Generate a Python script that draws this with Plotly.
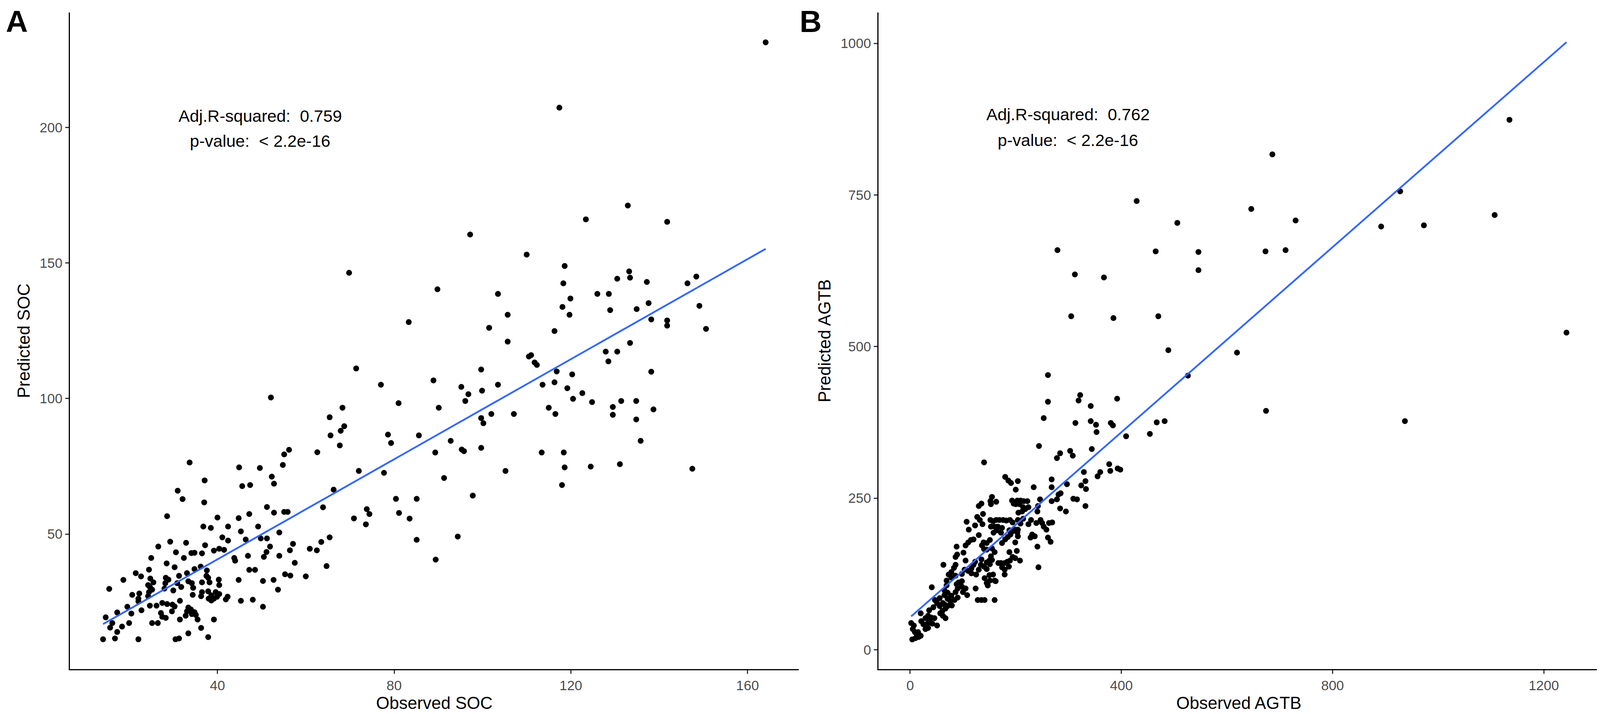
import plotly.graph_objects as go

# panel A: soil organic carbon, observed vs predicted
soc_obs = [
    164.1, 117.4, 132.9, 123.4, 141.8, 97.2, 110.0, 118.6, 69.8, 148.4, 133.2, 133.4, 130.5, 137.2, 146.4,
    118.3, 89.8, 103.5, 126.0, 128.6, 119.9, 137.6, 118.1, 149.1, 128.9, 134.9, 105.7, 119.7, 83.3, 138.2,
    141.8, 141.8, 150.6, 101.5, 116.3, 105.7, 133.4, 127.9, 130.5, 110.5, 111.0, 111.8, 112.3, 128.5, 71.4,
    99.7, 116.8, 138.2, 120.3, 77.0, 88.9, 95.2, 96.8, 99.9, 103.5, 113.6, 116.3, 119.2, 122.6, 120.5,
    124.8, 131.4, 134.8, 96.1, 52.1, 81.0, 129.5, 129.5, 138.7, 115.0, 116.5, 68.3, 90.1, 102.0, 107.1,
    99.7, 100.2, 134.8, 65.4, 68.7, 67.9, 65.6, 78.6, 79.3, 85.6, 92.8, 67.7, 135.8,
    62.6, 56.2, 55.1, 54.8, 49.6, 44.9, 33.7, 77.7, 72.0, 66.3, 63.9, 70.9, 73.6, 73.8, 74.4,
    52.3, 52.8, 45.6, 47.4, 37.1, 31.0, 32.1, 37.0, 28.6, 51.2, 52.8, 55.1, 55.9, 47.2, 44.8,
    40.0, 45.3, 49.2, 42.4, 36.8, 38.5, 54.0, 65.4, 63.5, 41.1, 42.4, 46.4, 49.8, 51.2, 51.9,
    57.1, 60.9, 62.5, 56.4, 51.1, 50.5, 54.0, 46.9, 43.8, 44.0, 57.5, 64.7, 47.2, 48.5, 55.3,
    56.5, 60.0, 44.8, 50.3, 52.7, 53.7, 45.3, 48.0, 50.3, 39.2, 40.4, 41.5, 32.9, 29.3, 26.6,
    37.2, 30.6, 34.1, 34.8, 36.5, 32.4, 25.0, 28.5, 30.3, 24.5, 34.8, 36.2, 37.6, 21.5, 22.7,
    18.7, 24.8, 25.5, 28.3, 28.9, 31.3, 33.1, 37.5, 37.9, 24.3, 24.7, 28.2, 30.9, 33.4, 34.2,
    36.5, 38.2, 40.3, 40.4, 15.5, 25.2, 30.0, 31.8, 34.5, 24.5, 28.0, 36.5, 37.9, 39.6, 40.4,
    20.7, 22.3, 24.3, 34.4, 36.3, 38.6, 39.2, 39.9, 42.3, 41.9, 22.1, 22.1, 38.0, 38.6, 31.5,
    19.6, 24.7, 26.2, 27.5, 28.6, 29.8, 30.3, 17.3, 20.5, 22.8, 27.2, 29.7, 33.4, 34.0, 34.8,
    33.1, 34.2, 32.8, 35.1, 14.7, 27.5, 28.3, 31.5, 35.5, 39.2, 16.2, 20.0, 25.2, 26.5, 15.7,
    18.4, 36.3, 17.3, 33.4, 14.1, 16.8, 22.1, 30.5, 31.3, 37.9,
    89.3, 95.3, 95.8, 99.7, 113.4, 118.4, 105.2, 118.6, 124.5, 131.1, 147.5, 91.3, 118.0, 80.4, 85.1,
    97.8, 81.1, 83.5, 94.4, 85.1, 89.4,
]
soc_pred = [
    231.4, 207.3, 171.2, 166.1, 165.2, 160.5, 153.1, 148.9, 146.4, 145.0, 146.9, 144.6, 144.2, 143.0, 142.5,
    142.5, 140.3, 138.6, 138.6, 138.6, 136.9, 135.2, 133.8, 134.2, 132.6, 133.0, 130.9, 130.9, 128.2, 129.2,
    128.8, 126.9, 125.7, 126.1, 124.9, 121.0, 120.5, 117.3, 117.3, 115.5, 116.0, 113.3, 112.4, 113.7, 111.1,
    110.7, 110.0, 109.9, 108.9, 105.1, 106.7, 104.3, 101.6, 102.9, 105.1, 105.1, 106.0, 103.8, 102.0, 99.9,
    98.7, 99.1, 99.1, 99.1, 100.4, 98.3, 96.9, 94.0, 96.0, 96.6, 94.3, 96.6, 96.6, 94.3, 94.3,
    92.8, 90.9, 92.3, 93.1, 89.8, 88.1, 86.4, 86.7, 83.6, 86.4, 84.4, 82.7, 84.4,
    80.2, 81.1, 79.4, 75.5, 74.4, 74.6, 76.4, 72.6, 73.3, 66.4, 59.9, 55.8, 53.6, 59.2, 57.4,
    71.2, 68.6, 67.7, 68.1, 69.8, 66.0, 62.9, 61.7, 56.6, 60.0, 57.9, 58.2, 58.2, 57.4, 55.9,
    56.1, 51.0, 52.8, 52.8, 52.8, 52.3, 50.6, 48.8, 47.1, 48.8, 47.6, 48.0, 48.4, 48.4, 45.4,
    46.4, 44.6, 44.0, 44.0, 43.4, 41.6, 42.0, 42.0, 41.2, 40.2, 39.4, 38.2, 36.8, 36.8, 35.2,
    34.7, 34.4, 33.1, 32.7, 33.1, 29.5, 25.4, 25.8, 23.2, 43.9, 44.6, 44.2, 46.8, 47.2, 45.4,
    45.9, 43.3, 43.0, 43.1, 42.9, 41.2, 41.2, 39.2, 37.8, 36.9, 37.1, 38.0, 36.6, 35.6, 34.4,
    33.1, 33.6, 32.2, 33.9, 33.2, 34.6, 35.6, 34.6, 33.9, 31.2, 30.5, 31.9, 31.9, 32.6, 31.9,
    32.2, 32.2, 33.2, 31.2, 29.8, 29.5, 29.2, 30.5, 30.2, 28.6, 29.9, 28.6, 28.9, 28.6, 27.9,
    27.6, 28.1, 27.1, 27.6, 27.1, 27.4, 26.2, 26.9, 26.9, 25.9, 26.2, 25.2, 26.2, 25.5, 25.4,
    23.2, 23.6, 23.6, 24.6, 24.2, 24.0, 23.3, 21.1, 20.7, 21.9, 20.9, 21.5, 22.9, 22.2, 21.2,
    21.5, 20.5, 19.9, 20.2, 19.3, 19.5, 19.1, 18.5, 18.5, 18.5, 17.2, 17.2, 17.2, 17.2, 15.5,
    15.9, 15.4, 13.9, 13.4, 11.2, 11.5, 11.2, 11.2, 11.5, 12.0,
    80.1, 81.2, 80.6, 81.8, 80.1, 80.1, 73.3, 74.6, 74.9, 75.8, 74.1, 70.7, 68.1, 63.0, 63.0,
    64.2, 57.8, 55.7, 49.1, 47.9, 40.6,
]
soc_fit_obs = [14.1, 164.1]
soc_fit_pred = [16.8, 155.2]

# panel B: above-ground tree biomass, observed vs predicted
agtb_obs = [
    1135, 686, 429, 646, 928, 1107, 730, 506, 892, 973, 279, 465, 546, 673, 711,
    546, 312, 367, 305, 385, 470, 1243, 489, 619, 526, 261, 261, 322, 319, 392,
    674, 937, 253, 313, 342, 342, 352, 380, 384, 353, 467, 482, 454, 409, 344,
    377, 393, 398, 379, 360, 355, 329, 332, 324, 333, 316, 332,
    4, 10, 16, 13, 9, 2, 7, 5, 20, 15, 21, 25, 29, 34, 33,
    37, 42, 51, 40, 34, 20, 29, 46, 36, 44, 41, 57, 62, 67, 61,
    56, 62, 51, 47, 56, 65, 71, 71, 76, 79, 71, 67, 65, 69, 69,
    66, 78, 84, 86, 90, 90, 98, 100, 105, 108, 88, 92, 98, 73, 78,
    83, 86, 63, 78, 86, 86, 89, 88, 101, 105, 103, 98, 110, 116, 116,
    120, 123, 125, 130, 134, 135, 136, 140, 139, 145, 105, 110, 115, 120, 130,
    111, 107, 123, 127, 132, 137, 138, 130, 135, 140, 152, 157, 163, 169, 176,
    182, 189, 194, 153, 160, 166, 164, 158, 174, 172, 151, 145, 155, 160, 153,
    150, 145, 140, 145, 151, 155, 152, 155, 163, 153, 174, 180, 185, 190, 193,
    188, 199, 203, 204, 199, 202, 188, 194, 199, 208, 189, 184, 179, 172, 167,
    174, 179, 187, 179, 157, 150, 141, 145, 151, 162, 147, 124, 128, 135, 141,
    160, 244, 180, 186, 191, 204, 200, 234, 268, 268, 278, 284, 303, 308, 297,
    281, 285, 278, 284, 295, 309, 268, 246, 242, 241, 222, 215, 209, 203, 193,
    196, 200, 207, 214, 212, 205, 218, 224, 247, 250, 253, 258, 239, 229, 224,
    263, 269, 231, 228, 236, 261, 266, 241, 243, 204, 209, 214, 204, 160,
]
agtb_pred = [
    874, 817, 740, 727, 756, 717, 708, 704, 698, 700, 659, 657, 656, 657, 659,
    626, 619, 614, 550, 547, 550, 523, 494, 490, 452, 453, 409, 420, 411, 414,
    394, 377, 382, 374, 402, 377, 371, 374, 370, 359, 375, 377, 356, 352, 331,
    306, 299, 297, 295, 293, 286, 293, 278, 271, 265, 248, 237,
    17, 19, 21, 24, 29, 44, 40, 34, 23, 29, 47, 42, 34, 36, 43,
    47, 43, 40, 53, 56, 60, 52, 52, 65, 70, 103, 60, 56, 52, 64,
    72, 77, 77, 82, 85, 90, 94, 84, 80, 73, 72, 68, 98, 106, 114,
    74, 89, 82, 95, 86, 101, 104, 95, 101, 90, 108, 111, 113, 124, 128,
    135, 140, 140, 119, 122, 153, 157, 170, 160, 147, 132, 125, 130, 126, 134,
    140, 145, 124, 132, 140, 149, 172, 166, 177, 165, 172, 177, 181, 182, 189,
    198, 211, 205, 219, 214, 207, 224, 237, 241, 309, 214, 212, 214, 214, 214,
    213, 214, 210, 203, 203, 203, 197, 193, 201, 193, 181, 176, 167, 161, 154,
    147, 144, 137, 133, 141, 148, 245, 252, 244, 240, 176, 182, 186, 190, 195,
    197, 198, 193, 187, 177, 163, 161, 153, 151, 147, 147, 145, 143, 143, 143,
    136, 132, 137, 124, 124, 123, 118, 110, 114, 113, 106, 101, 82, 82, 82,
    82, 336, 285, 279, 275, 278, 264, 268, 281, 268, 316, 324, 328, 320, 273,
    256, 258, 248, 233, 228, 249, 245, 248, 237, 228, 245, 245, 246, 246, 246,
    241, 240, 240, 235, 228, 226, 232, 235, 214, 209, 203, 198, 209, 214, 207,
    209, 210, 190, 185, 187, 185, 178, 170, 136, 198, 208, 216, 214, 114,
]
agtb_fit_obs = [2, 1243]
agtb_fit_pred = [55, 1002]

soc_ticks_x = [40, 80, 120, 160]
soc_ticks_y = [0, 50, 100, 150, 200]
agtb_ticks_x = [0, 400, 800, 1200]
agtb_ticks_y = [0, 250, 500, 750, 1000]

FONT = "Liberation Sans"
BLUE = "#3366FF"

fig = go.Figure()

fig.add_trace(go.Scatter(
    x=soc_obs, y=soc_pred, mode="markers",
    marker=dict(color="black", size=15, line=dict(width=0)),
    xaxis="x", yaxis="y", showlegend=False
))
fig.add_trace(go.Scatter(
    x=soc_fit_obs, y=soc_fit_pred, mode="lines",
    line=dict(color=BLUE, width=4.5),
    xaxis="x", yaxis="y", showlegend=False
))
fig.add_trace(go.Scatter(
    x=agtb_obs, y=agtb_pred, mode="markers",
    marker=dict(color="black", size=15, line=dict(width=0)),
    xaxis="x2", yaxis="y2", showlegend=False
))
fig.add_trace(go.Scatter(
    x=agtb_fit_obs, y=agtb_fit_pred, mode="lines",
    line=dict(color=BLUE, width=4.5),
    xaxis="x2", yaxis="y2", showlegend=False
))

def axis_style(tickvals, title, rng, domain, anchor):
    return dict(
        domain=domain, anchor=anchor, range=rng,
        tickmode="array", tickvals=tickvals,
        showline=True, linecolor="black", linewidth=3,
        ticks="outside", ticklen=9, tickwidth=3, tickcolor="#333333",
        tickfont=dict(family=FONT, size=35, color="#4D4D4D"),
        showgrid=False, zeroline=False,
        title=dict(text=title, font=dict(family=FONT, size=44, color="black"), standoff=12),
    )

fig.update_layout(
    width=4107, height=1829,
    margin=dict(l=171, r=21, t=24, b=123),
    plot_bgcolor="white", paper_bgcolor="white",
    xaxis=axis_style(soc_ticks_x, "Observed SOC", [6.6, 171.6], [0, 0.4766], "y"),
    yaxis=axis_style(soc_ticks_y, "Predicted SOC", [0.2, 242.4], [0, 1], "x"),
    xaxis2=axis_style(agtb_ticks_x, "Observed AGTB", [-60, 1305], [0.5287, 1], "y2"),
    yaxis2=axis_style(agtb_ticks_y, "Predicted AGTB", [-32, 1051], [0, 1], "x2"),
)

txt = dict(family=FONT, size=43, color="black")
fig.add_annotation(x=49.7, y=204.3, xref="x", yref="y", text="Adj.R-squared:\u00a0 0.759",
                   showarrow=False, font=txt)
fig.add_annotation(x=49.7, y=195.0, xref="x", yref="y", text="p-value:\u00a0 &lt; 2.2e-16",
                   showarrow=False, font=txt)
fig.add_annotation(x=299, y=882.7, xref="x2", yref="y2", text="Adj.R-squared:\u00a0 0.762",
                   showarrow=False, font=txt)
fig.add_annotation(x=299, y=840.7, xref="x2", yref="y2", text="p-value:\u00a0 &lt; 2.2e-16",
                   showarrow=False, font=txt)

# panel letters
lbl = dict(family=FONT, size=78, color="black", weight="bold")
fig.add_annotation(x=-0.0348, y=1.0134, xref="paper", yref="paper", text="<b>A</b>",
                   showarrow=False, font=lbl, xanchor="center", yanchor="top")
fig.add_annotation(x=0.4842, y=1.0134, xref="paper", yref="paper", text="<b>B</b>",
                   showarrow=False, font=lbl, xanchor="center", yanchor="top")

fig.write_html("out.html")
